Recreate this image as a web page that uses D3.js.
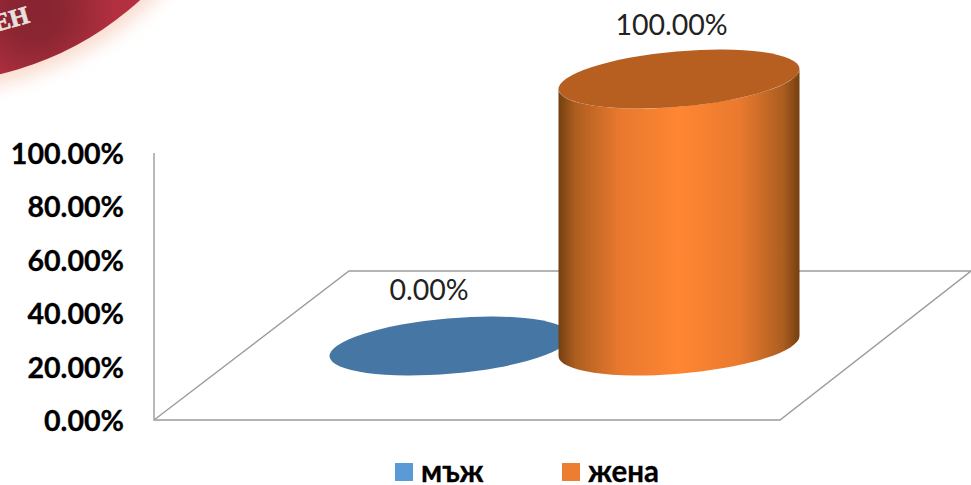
<!DOCTYPE html>
<html><head><meta charset="utf-8">
<script src="https://cdn.jsdelivr.net/npm/d3@7/dist/d3.min.js"></script>
<style>html,body{margin:0;padding:0;background:#fff}svg{display:block}text{font-family:Lato,"Noto Sans",sans-serif}</style>
</head><body><svg id="c" width="971" height="485"></svg>
<script>
const categories = ["мъж", "жена"];
const values = [0, 1];
const valueLabels = ["0.00%", "100.00%"];
const tickValues = [0, 0.2, 0.4, 0.6, 0.8, 1];
const sideColors = ["#74400f", "#ad5e20", "#e8782e", "#ff8633", "#ea7a2e", "#ad5e20", "#74400f"];
const sideStops = [0, 0.07, 0.25, 0.5, 0.75, 0.93, 1];
const topColors = ["#4676a3", "#b65f20"];
const legendColors = ["#5b9bd5", "#ed7d31"];

const W = 971, H = 485;
const svg = d3.select("#c");
const defs = svg.append("defs");

// emblem fragment in the corner
const blur = defs.append("filter").attr("id","glow").attr("x","-20%").attr("y","-20%").attr("width","140%").attr("height","140%");
blur.append("feGaussianBlur").attr("stdDeviation",9);
const badgeGrad = defs.append("radialGradient").attr("id","badge").attr("gradientUnits","userSpaceOnUse")
  .attr("cx",35).attr("cy",12).attr("r",80);
badgeGrad.append("stop").attr("offset",0).attr("stop-color","#872431");
badgeGrad.append("stop").attr("offset",0.35).attr("stop-color","#8b2632");
badgeGrad.append("stop").attr("offset",1).attr("stop-color","#b33040");
svg.append("circle").attr("cx",-74).attr("cy",-235).attr("r",328).attr("fill","#f9dccf").attr("filter","url(#glow)");
svg.append("circle").attr("cx",-74).attr("cy",-235).attr("r",318).attr("fill","url(#badge)");
svg.append("text").text("ЕН").attr("transform","translate(-4,32) rotate(-16)")
  .attr("font-size",25).attr("font-weight",700).attr("fill","#e8dfdf")
  .attr("stroke","#e8dfdf").attr("stroke-width",0.7)
  .style("font-family","'Liberation Serif',serif");

// scales
const yAxisScale = d3.scaleLinear().domain([0,1]).range([420,153]);
const x = d3.scalePoint().domain(categories).range([450,679]);
const floorRise = 74;
const baseY = yAxisScale(0) - floorRise;

// floor and wall
const floorLine = d3.line();
const wall = svg.append("g").attr("fill","none").attr("stroke","#9c9c9c").attr("stroke-width",1.4);
wall.append("path").attr("d",floorLine([[154,153],[154,420],[780,420],[971,271]]));
wall.append("path").attr("d",floorLine([[154,420],[349,271],[971,271]]));

// y tick labels
svg.append("g").selectAll("text").data(tickValues).join("text")
  .attr("x",124).attr("y",d=>yAxisScale(d)+1).attr("dy","0.35em").attr("text-anchor","end")
  .attr("font-size",28.6).attr("font-weight",700).attr("fill","#000")
  .attr("stroke","#000").attr("stroke-width",0.3)
  .text(d3.format(".2%"));

// cylinders
const rx = 120.9, ry = 27.7, rot = -5;
const tx = 120.5, ty = 10;
const grad = defs.append("linearGradient").attr("id","side").attr("gradientUnits","userSpaceOnUse")
  .attr("x1",x("жена")-tx).attr("x2",x("жена")+tx).attr("y1",0).attr("y2",0);
sideStops.forEach((o,i)=>grad.append("stop").attr("offset",o).attr("stop-color",sideColors[i]));

const bars = svg.append("g").selectAll("g").data(categories).join("g");
bars.each(function(c,i){
  const g = d3.select(this), cx = x(c);
  const h = yAxisScale(0) - yAxisScale(values[i]);
  const topY = baseY - h;
  if (h > 0) {
    g.append("path").attr("fill","url(#side)").attr("d",
      `M${cx-tx},${topY+ty} L${cx-tx},${baseY+ty} A${rx},${ry} ${rot} 0 0 ${cx+tx},${baseY-ty} `+
      `L${cx+tx},${topY-ty} A${rx},${ry} ${rot} 0 1 ${cx-tx},${topY+ty} Z`);
  }
  g.append("ellipse").attr("rx",rx).attr("ry",ry)
    .attr("transform",`translate(${cx},${topY}) rotate(${rot})`).attr("fill",topColors[i]);
});

// value labels
svg.append("g").selectAll("text").data(categories).join("text")
  .attr("x",(d,i)=>x(d)+[-21,-7.5][i])
  .attr("y",(d,i)=>yAxisScale(values[i]) - floorRise + [-46,-44][i])
  .attr("text-anchor","middle").attr("font-size",28.5).attr("fill","#222")
  .text((d,i)=>valueLabels[i]);

// legend
const lx = [395,562];
const leg = svg.append("g").selectAll("g").data(categories).join("g")
  .attr("transform",(d,i)=>`translate(${lx[i]},463)`);
leg.append("rect").attr("width",18).attr("height",18).attr("fill",(d,i)=>legendColors[i]);
leg.append("text").attr("x",26).attr("y",19).attr("font-size",29.5).attr("font-weight",700).attr("fill","#000")
  .attr("stroke","#000").attr("stroke-width",0.3).text(d=>d);
</script></body></html>
